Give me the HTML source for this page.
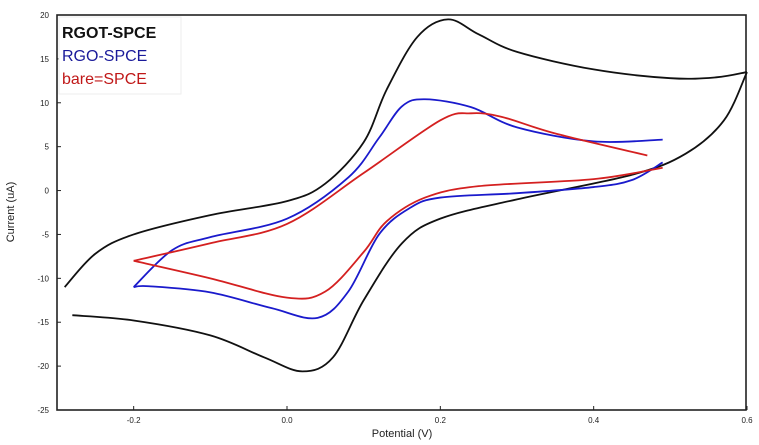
<!DOCTYPE html>
<html><head><meta charset="utf-8"><style>
html,body{margin:0;padding:0;background:#fff;}
svg{display:block;font-family:"Liberation Sans",sans-serif;}
</style></head><body>
<svg id="chart" width="759" height="445">
<rect x="57" y="15" width="689" height="395" fill="#fff" stroke="#222" stroke-width="1.6"/>
<g id="ticks"></g>
<g id="series"></g>
<text x="402" y="437" font-size="11" text-anchor="middle" fill="#222">Potential (V)</text>
<text x="14" y="212" font-size="11" text-anchor="middle" fill="#222" transform="rotate(-90 14 212)">Current (uA)</text>
<g>
<rect x="59" y="17" width="122" height="77" fill="#fff" stroke="#eee"/>
<text x="62" y="38" font-size="16" font-weight="bold" fill="#111">RGOT-SPCE</text>
<text x="62" y="61" font-size="16" fill="#1a1a9a">RGO-SPCE</text>
<text x="62" y="84" font-size="16" fill="#c01818">bare=SPCE</text>
</g>
</svg>
<script>
const xTicks=[-0.2,0.0,0.2,0.4,0.6];
const xTickLabels=["-0.2","0.0","0.2","0.4","0.6"];
const yTicks=[20,15,10,5,0,-5,-10,-15,-20,-25];
const rgotLowV=[-0.28,-0.2,-0.1,-0.03,0.02,0.06,0.1,0.15,0.2,0.3,0.45,0.52,0.57,0.6];
const rgotLowI=[-14.2,-14.8,-16.5,-19.0,-20.6,-19.0,-12.5,-6.0,-3.2,-1.0,1.8,4.2,8.0,13.5];
const rgotUpV=[0.6,0.56,0.5,0.4,0.3,0.25,0.21,0.17,0.13,0.1,0.05,0.0,-0.1,-0.2,-0.25,-0.29];
const rgotUpI=[13.5,12.9,12.8,13.8,15.8,17.8,19.5,17.5,11.5,5.5,0.8,-1.2,-2.8,-5.0,-7.2,-11.0];
const rgoLowV=[-0.2,-0.18,-0.1,-0.02,0.04,0.08,0.12,0.16,0.2,0.3,0.4,0.45,0.49];
const rgoLowI=[-11.0,-10.9,-11.6,-13.4,-14.5,-11.5,-5.0,-2.0,-0.8,-0.3,0.4,1.2,3.2];
const rgoUpV=[0.49,0.4,0.3,0.24,0.18,0.15,0.12,0.08,0.0,-0.1,-0.15,-0.2];
const rgoUpI=[5.8,5.6,7.2,9.5,10.4,9.6,6.0,1.5,-3.2,-5.3,-6.8,-11.0];
const bareLowV=[-0.2,-0.1,0.0,0.05,0.1,0.13,0.18,0.25,0.4,0.49];
const bareLowI=[-8.0,-10.0,-12.2,-11.5,-7.0,-3.5,-0.8,0.5,1.3,2.6];
const bareUpV=[0.47,0.35,0.28,0.24,0.2,0.1,0.0,-0.1,-0.2];
const bareUpI=[4.0,6.5,8.4,8.8,8.0,2.0,-3.8,-6.0,-8.0];
const X=v=>57+(v+0.3)/0.9*690;
const Y=i=>15+(20-i)/45*395;
const NS="http://www.w3.org/2000/svg";
const tg=document.getElementById('ticks');
xTicks.forEach((v,k)=>{
 const l=document.createElementNS(NS,'line');
 l.setAttribute('x1',X(v));l.setAttribute('x2',X(v));l.setAttribute('y1',410);l.setAttribute('y2',406);l.setAttribute('stroke','#222');
 
 
 tg.appendChild(l);
 const t=document.createElementNS(NS,'text');
 t.setAttribute('x',X(v));t.setAttribute('y',423);t.setAttribute('font-size','8');t.setAttribute('text-anchor','middle');t.setAttribute('fill','#222');
 t.textContent=xTickLabels[k];
 
 
 tg.appendChild(t);
});
yTicks.forEach(v=>{
 const l=document.createElementNS(NS,'line');
 l.setAttribute('x1',57);l.setAttribute('x2',61);l.setAttribute('y1',Y(v));l.setAttribute('y2',Y(v));l.setAttribute('stroke','#222');
 
 
 tg.appendChild(l);
 const t=document.createElementNS(NS,'text');
 t.setAttribute('x',49);t.setAttribute('y',Y(v)+3);t.setAttribute('font-size','8');t.setAttribute('text-anchor','end');t.setAttribute('fill','#222');
 t.textContent=String(v);
 
 
 tg.appendChild(t);
});
function pathD(vs,is){
 const p=vs.map((v,k)=>[X(v),Y(is[k])]);
 let d='M'+p[0][0]+','+p[0][1];
 for(let k=0;k<p.length-1;k++){
  const p0=p[Math.max(k-1,0)],p1=p[k],p2=p[k+1],p3=p[Math.min(k+2,p.length-1)];
  const c1=[p1[0]+(p2[0]-p0[0])/6,p1[1]+(p2[1]-p0[1])/6];
  const c2=[p2[0]-(p3[0]-p1[0])/6,p2[1]-(p3[1]-p1[1])/6];
  d+=` C${c1[0]},${c1[1]} ${c2[0]},${c2[1]} ${p2[0]},${p2[1]}`;
 }
 return d;
}
const sg=document.getElementById('series');
function addSeries(vs,is,col,name){
 const p=document.createElementNS(NS,'path');
 p.setAttribute('d',pathD(vs,is));p.setAttribute('fill','none');p.setAttribute('stroke',col);p.setAttribute('stroke-width','1.8');p.setAttribute('stroke-linejoin','round');
 
 
 sg.appendChild(p);
}
addSeries(rgotLowV,rgotLowI,'#111','rgot-spce-cathodic');
addSeries(rgotUpV,rgotUpI,'#111','rgot-spce-anodic');
addSeries(rgoLowV,rgoLowI,'#1a1acc','rgo-spce-cathodic');
addSeries(rgoUpV,rgoUpI,'#1a1acc','rgo-spce-anodic');
addSeries(bareLowV,bareLowI,'#d42020','bare-spce-cathodic');
addSeries(bareUpV,bareUpI,'#d42020','bare-spce-anodic');
</script>
</body></html>
